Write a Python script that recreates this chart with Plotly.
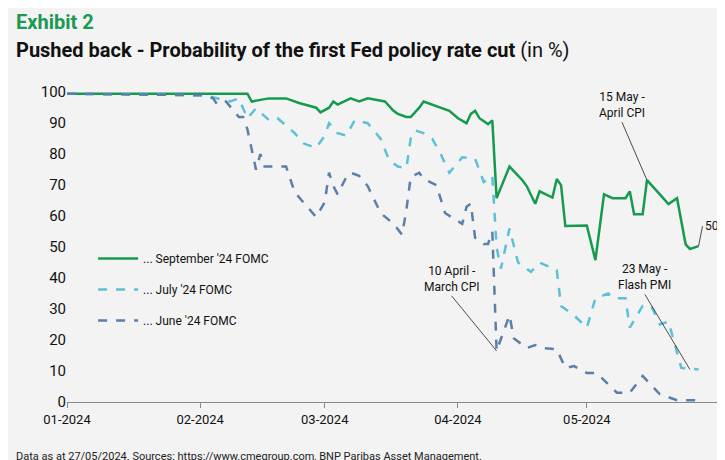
import plotly.graph_objects as go
import pandas as pd

start = pd.Timestamp("2024-01-01")
sep_days = [0, 42, 43, 47, 51, 54, 58, 59, 61, 62, 63, 66, 68, 70, 74, 76, 77, 79, 80, 82, 83, 85, 87, 89, 91, 93, 94, 95, 96, 98, 99, 100, 103, 106, 107, 109, 110, 113, 114, 115, 116, 119, 121, 123, 125, 127, 130, 131, 132, 134, 135, 138, 140, 142, 144, 145, 147]
sep_vals = [99.5, 99.5, 97, 98, 98, 96.5, 95, 93.5, 95, 97, 96, 98, 97, 98, 97, 94, 93, 92, 92, 95, 97, 96, 95, 94, 91.6, 90, 93, 94, 91.6, 89.7, 90.9, 65.8, 76, 71.6, 69.7, 64, 68, 66, 72, 70, 56.8, 57, 57, 45.8, 67, 65.8, 65.8, 68, 60.6, 60.6, 71.6, 67, 63.9, 65.8, 50.9, 49.4, 50.3]
jul_days = [0, 32, 38, 40, 42, 44, 47, 49, 53, 55, 58, 60, 61, 63, 65, 67, 70, 73, 75, 77, 79, 80, 81, 83, 85, 87, 89, 92, 95, 97, 99, 100, 101, 103, 105, 108, 110, 114, 115, 118, 121, 123, 126, 127, 130, 131, 134, 136, 138, 140, 143, 147]
jul_vals = [99.5, 99, 97, 98, 91.6, 94.8, 91, 91.6, 86.8, 83.5, 82, 86, 90, 86.8, 86, 91, 90, 85, 78, 76, 75.5, 85, 87.7, 86.8, 85, 80, 74, 79, 78.5, 71, 73, 50, 43, 56, 45, 42, 45, 42.6, 31, 28, 24, 33.5, 35, 33.5, 33.5, 24, 31, 31, 25, 26, 11, 10.5]
jun_days = [0, 32, 34, 35, 37, 40, 41, 42, 44, 45, 46, 48, 51, 53, 55, 58, 60, 61, 62, 63, 65, 66, 68, 70, 73, 76, 78, 79, 80, 82, 83, 86, 88, 92, 93, 94, 95, 97, 98, 99, 100, 103, 104, 107, 109, 111, 114, 116, 118, 121, 123, 124, 128, 131, 134, 137, 138, 142, 147]
jun_vals = [99.5, 99, 98, 96, 97, 92, 92, 88, 75, 80, 76, 76, 76, 67.7, 64.5, 59.7, 64.5, 74, 69.7, 67, 72.6, 74, 73, 69.7, 61, 57.5, 54, 62, 72.6, 74, 72, 70, 61, 57.5, 63, 64, 53, 51, 51, 55, 16.5, 28, 20.6, 17.4, 18.4, 17.4, 17, 11, 11.6, 9.4, 9.4, 8.4, 3, 3, 8.4, 3.9, 2.5, 0.6, 0.6]
tick_dates = ["2024-01-01", "2024-02-01", "2024-03-01", "2024-04-01", "2024-05-01", "2024-06-01"]
tick_text = ["01-2024", "02-2024", "03-2024", "04-2024", "05-2024", ""]

def d(days):
    return [start + pd.Timedelta(days=x) for x in days]

fig = go.Figure()
fig.add_trace(go.Scatter(x=d(sep_days), y=sep_vals, mode="lines", name="... September '24 FOMC",
                         line=dict(color="#159a4e", width=2.5), legendgroup="a"))
fig.add_trace(go.Scatter(x=d(jul_days), y=jul_vals, mode="lines", name="... July '24 FOMC",
                         line=dict(color="#5bc0d8", width=2.5, dash="dash"), legendgroup="b"))
fig.add_trace(go.Scatter(x=d(jun_days), y=jun_vals, mode="lines", name="... June '24 FOMC",
                         line=dict(color="#5a7fab", width=2.5, dash="dash"), legendgroup="c"))

ann = dict(showarrow=True, arrowhead=0, arrowwidth=0.8, arrowcolor="#222",
           font=dict(size=12, color="#111"), align="center")
annotations = [
    dict(x=d([135])[0], y=71.6, ax=-25, ay=-58, text="15 May -<br>April CPI", yanchor="bottom", **ann),
    dict(x=d([100])[0], y=16.5, ax=-45, ay=-55, text="10 April -<br>March CPI", yanchor="bottom", **ann),
    dict(x=d([145])[0], y=10.5, ax=-45, ay=-75, text="23 May -<br>Flash PMI", yanchor="bottom", **ann),
    dict(x=d([147])[0], y=50.3, ax=4, ay=-20, text="50%", xanchor="left", **ann),
    dict(xref="paper", yref="paper", x=-0.081, y=1.2025, xanchor="left", yanchor="middle", showarrow=False,
         text="<b>Exhibit 2</b>", font=dict(size=20, color="#1a9a50", family="Roboto")),
    dict(xref="paper", yref="paper", x=-0.081, y=1.114, xanchor="left", yanchor="middle", showarrow=False,
         text="<b>Pushed back - Probability of the first Fed policy rate cut</b> (in %)", font=dict(size=20, color="#111", family="Roboto")),
    dict(xref="paper", yref="paper", x=-0.081, y=-0.171, xanchor="left", yanchor="middle", showarrow=False,
         text="Data as at 27/05/2024. Sources: https://www.cmegroup.com, BNP Paribas Asset Management.",
         font=dict(size=11, color="#222")),
]

fig.update_layout(
    width=725, height=460, margin=dict(l=59, r=13, t=78, b=66, autoexpand=False),
    paper_bgcolor="#f3f3f3", plot_bgcolor="#f3f3f3",
    font=dict(family="Roboto", size=13, color="#111"),
    showlegend=True,
    legend=dict(x=0.04, y=0.5, xanchor="left", yanchor="top", bgcolor="rgba(0,0,0,0)",
                tracegroupgap=12, font=dict(size=12), itemwidth=40),
    annotations=annotations,
    xaxis=dict(range=["2024-01-01", "2024-06-01"], tickvals=tick_dates, ticktext=tick_text,
               showgrid=False, showline=True, linecolor="#888", ticks="outside", ticklen=5, tickcolor="#888",
               tickfont=dict(size=13), automargin=False),
    yaxis=dict(range=[0, 102], tickvals=list(range(0, 101, 10)), showgrid=False, zeroline=False,
               tickfont=dict(size=15), ticks="", automargin=False),
)
fig.write_html("out.html")
